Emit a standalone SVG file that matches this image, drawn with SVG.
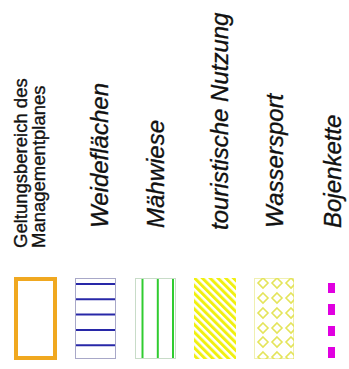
<svg xmlns="http://www.w3.org/2000/svg" width="349" height="369" viewBox="0 0 349 369">
<style>
.lbl{font-family:"Liberation Sans",Arial,sans-serif;fill:#111;stroke:#111;stroke-width:0.35}
.it{font-size:24px;font-style:italic}
.rg{font-size:18.5px}
</style>
<defs>
<pattern id="diag" patternUnits="userSpaceOnUse" width="5.5" height="6" patternTransform="rotate(-45)">
<rect x="0" y="0" width="3" height="6" fill="#f0f010"/>
</pattern>
<clipPath id="wclip"><rect x="254" y="278" width="40" height="81"/></clipPath>
<path id="dia" d="M0,-5 L5,0 L0,5 L-5,0 Z" fill="none" stroke="#e4e45a" stroke-width="1.6"/>
</defs>
<rect width="349" height="369" fill="#fff"/>

<g id="geltungsbereich">
<text class="lbl rg" transform="translate(27,248) rotate(-90)">Geltungsbereich des</text>
<text class="lbl rg" transform="translate(45,248) rotate(-90)">Managementplanes</text>
<rect x="16" y="279" width="39" height="79" fill="none" stroke="#f0a820" stroke-width="4"/>
</g>

<g id="weideflaechen">
<text class="lbl it" transform="translate(108,228) rotate(-90)">Weideflächen</text>
<rect x="75.5" y="278.5" width="40" height="80" fill="none" stroke="#a8a8c8" stroke-width="1"/>
<g stroke="#2828a8" stroke-width="2">
<line x1="76" y1="284" x2="115" y2="284"/>
<line x1="76" y1="299.3" x2="115" y2="299.3"/>
<line x1="76" y1="314.5" x2="115" y2="314.5"/>
<line x1="76" y1="330" x2="115" y2="330"/>
<line x1="76" y1="345.3" x2="115" y2="345.3"/>
</g>
</g>

<g id="maehwiese">
<text class="lbl it" transform="translate(164,228) rotate(-90)">Mähwiese</text>
<rect x="135.5" y="278.5" width="40" height="80" fill="none" stroke="#c8dcc8" stroke-width="1"/>
<g stroke="#30cc30" stroke-width="2">
<line x1="142.5" y1="279" x2="142.5" y2="358"/>
<line x1="157.8" y1="279" x2="157.8" y2="358"/>
<line x1="173" y1="279" x2="173" y2="358"/>
</g>
</g>

<g id="touristische-nutzung">
<text class="lbl it" transform="translate(228,230) rotate(-90)">touristische Nutzung</text>
<rect x="194" y="278" width="42" height="81" fill="url(#diag)"/>
</g>

<g id="wassersport">
<text class="lbl it" transform="translate(283,228) rotate(-90)">Wassersport</text>
<rect x="254.5" y="278.5" width="39" height="80" fill="none" stroke="#f0f0b0" stroke-width="1"/>
<g clip-path="url(#wclip)">
<use href="#dia" x="263" y="283"/><use href="#dia" x="277" y="283"/><use href="#dia" x="291" y="283"/>
<use href="#dia" x="263" y="298"/><use href="#dia" x="277" y="298"/><use href="#dia" x="291" y="298"/>
<use href="#dia" x="263" y="313"/><use href="#dia" x="277" y="313"/><use href="#dia" x="291" y="313"/>
<use href="#dia" x="263" y="328"/><use href="#dia" x="277" y="328"/><use href="#dia" x="291" y="328"/>
<use href="#dia" x="263" y="342"/><use href="#dia" x="277" y="342"/><use href="#dia" x="291" y="342"/>
<use href="#dia" x="263" y="357"/><use href="#dia" x="277" y="357"/><use href="#dia" x="291" y="357"/>
</g>
</g>

<g id="bojenkette">
<text class="lbl it" transform="translate(341,228) rotate(-90)">Bojenkette</text>
<g fill="#e000e0">
<rect x="328" y="283" width="7" height="10"/>
<rect x="328" y="304" width="7" height="11"/>
<rect x="328" y="326" width="7" height="10"/>
<rect x="328" y="347" width="7" height="11"/>
</g>
</g>
</svg>
